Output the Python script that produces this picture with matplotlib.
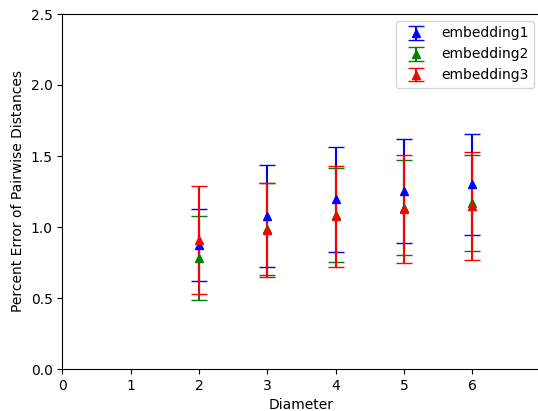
import matplotlib
matplotlib.use("Agg")
import matplotlib.pyplot as plt

diameters = [2, 3, 4, 5, 6]
emb1_mean = [0.875, 1.08, 1.195, 1.252, 1.30]
emb1_err = [0.255, 0.36, 0.37, 0.365, 0.355]
emb2_mean = [0.78, 0.985, 1.085, 1.137, 1.17]
emb2_err = [0.295, 0.325, 0.33, 0.333, 0.34]
emb3_mean = [0.91, 0.98, 1.074, 1.13, 1.15]
emb3_err = [0.38, 0.33, 0.356, 0.38, 0.38]

fig = plt.figure(figsize=(5.38, 4.11), dpi=100)
ax = fig.add_axes([62.3/538, (411-369)/411, 478.5/538, 355/411])

ax.errorbar(diameters, emb1_mean, yerr=emb1_err, fmt='^', color='blue', capsize=6, label='embedding1')
ax.errorbar(diameters, emb2_mean, yerr=emb2_err, fmt='^', color='green', capsize=6, label='embedding2')
ax.errorbar(diameters, emb3_mean, yerr=emb3_err, fmt='^', color='red', capsize=6, label='embedding3')

ax.set_xlim(0, 7)
ax.set_ylim(0, 2.5)
ax.set_xlabel('Diameter')
ax.set_ylabel('Percent Error of Pairwise Distances')
ax.spines['right'].set_visible(False)
ax.legend(loc='upper right')

fig.savefig('out.png', dpi=100)
